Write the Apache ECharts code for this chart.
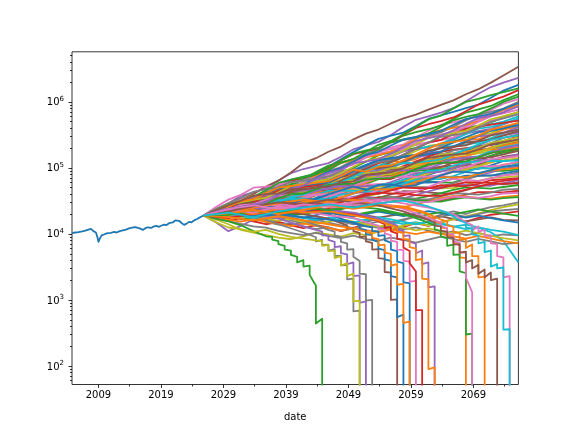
<!DOCTYPE html>
<html>
<head>
<meta charset="utf-8">
<script src="https://cdn.jsdelivr.net/npm/echarts@6/dist/echarts.min.js"></script>
<style>
  html, body { margin: 0; padding: 0; background: #fff; }
  #chart { width: 576px; height: 432px; }
</style>
</head>
<body>
<div id="chart"></div>
<script>
// all values in thousands
const history = [
  [2004.77, 10.3], [2005.3, 10.5], [2005.8, 10.6], [2006.4, 10.9], [2006.9, 11.2], [2007.4, 11.6],
  [2007.8, 11.9], [2008.2, 11.0], [2008.6, 10.5], [2008.85, 8.8], [2009.0, 7.6], [2009.2, 8.4],
  [2009.5, 9.5], [2009.9, 9.8], [2010.3, 10.2], [2010.6, 9.9], [2011.0, 10.4], [2011.5, 10.7],
  [2011.9, 10.5], [2012.4, 11.0], [2012.9, 11.3], [2013.4, 11.6], [2013.9, 12.1], [2014.4, 12.4],
  [2014.9, 12.7], [2015.3, 12.3], [2015.7, 12.0], [2016.1, 11.5], [2016.5, 12.2], [2016.9, 12.6],
  [2017.4, 12.3], [2017.9, 13.0], [2018.3, 13.2], [2018.7, 12.8], [2019.1, 13.4], [2019.5, 13.8],
  [2019.9, 13.6], [2020.3, 14.5], [2020.6, 15.4], [2020.9, 14.9], [2021.3, 16.0], [2021.6, 16.6],
  [2021.9, 15.8], [2022.3, 14.6], [2022.7, 13.7], [2023.1, 14.3], [2023.5, 15.2], [2023.9, 15.0],
  [2024.3, 16.0], [2024.7, 16.7], [2025.1, 17.5], [2025.5, 18.3], [2025.8, 19.0]
];

const simYears = [2025.8, 2027.8, 2029.8, 2031.8, 2033.8, 2035.8, 2037.8, 2039.8, 2041.8, 2043.8,
  2045.8, 2047.8, 2049.8, 2051.8, 2053.8, 2055.8, 2057.8, 2059.8, 2061.8, 2063.8, 2065.8, 2067.8,
  2069.8, 2071.8, 2073.8, 2076.2];

// simulated paths that last to the end, one value per simYears entry
const survivors = [
  [19, 22.6, 23.6, 30.3, 37.3, 38, 37.8, 45, 57, 72, 77, 78, 77, 93, 118, 126, 123, 136, 170, 214, 258, 266, 273, 318, 378, 420],
  [19, 19.3, 19.4, 22.1, 25.7, 29.3, 28.5, 27.6, 27.9, 32.1, 38.9, 46, 51, 48, 46.5, 45.6, 51.8, 62, 63, 59.6, 60.1, 69, 81.5, 91, 90, 95],
  [19, 22.5, 26.2, 26.3, 26, 27.1, 32, 39.7, 41.6, 39.9, 40.5, 46.9, 57.1, 67.6, 67.3, 67.8, 78.4, 94.9, 114, 119, 119, 120, 129, 151, 179, 190],
  [19, 22.3, 29.2, 37.6, 42.7, 48.3, 64.4, 82.9, 96, 106, 118, 147, 191, 219, 247, 315, 417, 534, 599, 683, 800, 1020, 1320, 1670, 1950, 2300],
  [19, 22, 27, 33, 40, 52, 64, 85, 118, 140, 175, 210, 270, 330, 380, 470, 560, 640, 760, 900, 1050, 1300, 1550, 1950, 2500, 3400],
  [19, 25.5, 33, 39, 50, 52, 55, 66, 70, 76, 93, 101, 112, 143, 182, 203, 226, 289, 364, 448, 489, 540, 608, 753, 939, 1100],
  [19, 18, 19.5, 17, 15.5, 16.8, 15, 13.8, 15, 16.5, 14.8, 13.5, 12.2, 13.8, 15.5, 14, 16, 18.5, 17, 19.5, 22, 20, 23, 25.5, 27, 30],
  [19, 19.3, 20.4, 21.8, 25.6, 30.8, 36.5, 37.3, 38.3, 40.4, 48.4, 58.8, 70, 81.7, 84.1, 86.2, 89.6, 103, 124, 144, 154, 158, 165, 179, 209, 240],
  [19, 20.7, 25.5, 27.6, 29.6, 35.8, 45.5, 55.6, 68.3, 71.8, 78.6, 82.5, 90.6, 107, 133, 164, 185, 196, 208, 231, 283, 356, 427, 454, 501, 600],
  [19, 23.3, 25.9, 29.4, 36.4, 41.3, 51.6, 65.9, 72.5, 82, 104, 135, 173, 219, 274, 308, 342, 429, 549, 622, 703, 801, 909, 1150, 1480, 1800],
  [19, 20, 20.8, 23.6, 27.4, 28.6, 28.5, 28.9, 32.9, 38.4, 44.7, 51.3, 51.6, 52.2, 52.4, 54.3, 63.1, 73.7, 85, 98.5, 103, 105, 107, 120, 140, 150],
  [19, 23.2, 25.3, 27.4, 33.7, 42, 51.2, 54.9, 58.6, 71.1, 75.6, 82.7, 99.6, 124, 155, 173, 182, 200, 240, 301, 366, 404, 435, 486, 591, 700],
  [19, 17.5, 16, 17.2, 15.5, 14, 15.2, 13.5, 12.2, 13.6, 12.5, 11, 12.3, 13.8, 12.6, 11.5, 12.8, 14.5, 13.2, 15, 16.8, 15.4, 17.5, 19.5, 20.5, 22],
  [19, 19.2, 20.3, 24.1, 29.1, 35.3, 37.7, 39.3, 46, 56.8, 68.4, 73.4, 77, 79.6, 84.6, 98.7, 120, 145, 155, 163, 167, 182, 218, 263, 310, 340],
  [19, 20.9, 23.3, 23.1, 22.3, 22, 21.3, 23.6, 26.3, 29.3, 28.5, 27.6, 27.6, 31.1, 35, 39.7, 44.4, 43.9, 42.5, 40.9, 40.9, 45.8, 52.1, 57.3, 56, 60],
  [19, 20.8, 23.1, 28.4, 31.2, 34.3, 42.3, 53.5, 67.3, 82.8, 90.2, 97.9, 121, 151, 166, 178, 196, 240, 297, 322, 350, 426, 537, 661, 733, 850],
  [19, 17.8, 18.6, 16.5, 17.3, 15.2, 13.8, 14.6, 13, 11.8, 12.6, 11.2, 12, 13.4, 12.3, 13.2, 11.7, 12.6, 11.2, 10.1, 10.9, 9.6, 10.4, 9.2, 9.8, 9.5],
  [19, 22.5, 24.1, 29, 35.5, 42.6, 45.1, 47.5, 50.4, 54.3, 65.8, 81.8, 88.6, 93.9, 101, 121, 148, 180, 214, 229, 242, 287, 307, 335, 401, 480],
  [19, 18.2, 19.5, 21, 19.6, 18, 19.8, 21.5, 20, 18.4, 17, 18.6, 17.2, 15.8, 16.9, 15.4, 14, 15.1, 13.6, 14.5, 13, 11.8, 12.4, 10.6, 7.8, 3.7],
  [19, 20.3, 24.2, 28.7, 29.6, 30.3, 32.1, 37.7, 45.4, 52.9, 54.4, 56.2, 65.8, 79.1, 92.8, 96.7, 99, 103, 108, 129, 153, 182, 211, 222, 230, 270],
  [19, 18.8, 19.1, 19.7, 22.4, 26, 30.1, 34.2, 34.1, 33.8, 34.8, 40, 46.6, 54.1, 55.5, 54.6, 55.2, 56.7, 65.2, 76.3, 87, 99, 98.9, 98, 112, 120],
  [19, 21.8, 24.5, 27.7, 34.2, 43.1, 48.5, 54.2, 67.8, 86.2, 108, 121, 136, 152, 190, 244, 308, 348, 384, 436, 549, 688, 768, 864, 1060, 1300],
  [19, 20.9, 20.4, 19.6, 19.2, 21.2, 23.9, 26.4, 28.8, 28, 26.8, 26.1, 25.8, 28.2, 31.4, 35.1, 34.7, 33.1, 32.5, 32.2, 35.5, 39.2, 42.9, 42.8, 42.5, 45],
  [19, 23.4, 28.5, 34.1, 36.3, 39, 41.6, 50.3, 60.8, 64.6, 68.7, 74.3, 81.2, 97.2, 118, 147, 177, 193, 204, 223, 270, 330, 359, 390, 455, 550],
  [19, 20.2, 18.8, 19.9, 21.5, 20, 18.6, 19.8, 21.2, 22.6, 21, 19.4, 20.8, 19.2, 17.7, 18.9, 20.3, 18.7, 17.2, 18.4, 16.9, 15.5, 16.6, 17.8, 16.3, 16],
  [19, 19.9, 23, 27.1, 31.7, 33, 33.7, 34.8, 35.8, 41.7, 49.3, 57.5, 66.8, 68.9, 70.7, 73, 76.8, 89.3, 106, 124, 132, 135, 143, 167, 194, 210],
  [19, 22.2, 24.7, 27.4, 33.5, 41.7, 51.6, 63.8, 70.7, 75.7, 84, 103, 130, 161, 198, 240, 262, 285, 308, 345, 421, 524, 637, 703, 790, 1000],
  [19, 18.7, 18.7, 18.8, 18.9, 21.4, 24.2, 27, 30.3, 34.1, 34, 33.2, 32.9, 36.2, 40.7, 46.4, 51.8, 50.8, 49.6, 49.1, 49.6, 55.3, 62.9, 70.4, 71.5, 75],
  [19, 22, 23.1, 24.4, 26.2, 31.6, 38.7, 47.1, 56, 58.6, 61, 72.9, 86.8, 90.6, 95, 102, 121, 146, 174, 203, 214, 224, 240, 282, 334, 380],
  [19, 21.5, 24.4, 24.7, 24.6, 25.2, 25.8, 26.2, 30.1, 35.1, 41.3, 47.4, 54.1, 55.3, 55.3, 56.1, 58, 67, 78.5, 90, 92.7, 93.4, 96.6, 109, 127, 135],
  [19, 21.8, 24.3, 30.1, 37.2, 41, 44.5, 49, 60.5, 75.8, 95.5, 118, 132, 144, 156, 176, 218, 269, 332, 371, 403, 446, 503, 619, 761, 900],
  [19, 18.6, 18.6, 20.3, 23, 25.9, 28.4, 28.1, 27.1, 26.4, 26.1, 26, 29, 32.2, 36, 35.8, 34.7, 34.2, 37.4, 41.5, 46.4, 50.7, 49.9, 48.6, 51.3, 55],
  [19, 22.7, 26.5, 27.7, 28.6, 33.6, 40.4, 43.1, 43.9, 45.9, 53.5, 63.5, 67.4, 71.2, 75.9, 88.7, 106, 125, 148, 174, 188, 198, 209, 223, 257, 300],
  [19, 15, 11, 13.2, 16.5, 19.8, 22.5, 24, 25.5, 29.5, 34.5, 40, 42, 42.5, 44, 49, 56.5, 64.5, 73, 73.5, 73, 73.5, 75.5, 85, 97, 105],
  [19, 22.4, 25.7, 27, 27.7, 28.1, 29, 32.9, 38.4, 44.7, 51.3, 52.9, 53.3, 53.5, 54.5, 56.6, 66, 77.4, 91.1, 104, 108, 110, 113, 127, 148, 160],
  [19, 24, 29.1, 31.2, 33.2, 35.9, 39.5, 48, 59.3, 72.1, 78.3, 84, 91.8, 101, 123, 154, 189, 224, 244, 262, 289, 350, 432, 520, 566, 650],
  [19, 19.4, 19.7, 20, 22.2, 24.7, 27.9, 31.6, 32, 31.7, 31.6, 32, 35.9, 41, 46.5, 51.6, 51.8, 50.9, 51.2, 52.6, 58.9, 67.1, 75.4, 77, 76.9, 85],
  [19, 16.5, 14, 11.5, 10.5, 9.6, 8.8, 8.3, 9.2, 10.5, 9.8, 9.1, 10.3, 9.6, 10.8, 12, 13.3, 14.6, 13.5, 15, 16.6, 18.4, 20.5, 23, 25.5, 28],
  [19, 19.7, 22.7, 26.9, 31.6, 33, 33.7, 34.9, 40.6, 48, 56.1, 65.3, 68.4, 70, 72, 75.3, 79.5, 93.8, 111, 130, 137, 143, 150, 178, 210, 230],
  [19, 20.7, 22.5, 26.7, 32.5, 39.5, 43.2, 45.4, 48.4, 52.6, 63.8, 77.1, 92.9, 111, 131, 141, 149, 158, 169, 201, 243, 293, 344, 370, 396, 470],
  [19, 17.9, 17.3, 18.5, 20.4, 22.5, 21.7, 20.8, 20.1, 22, 24.6, 27.1, 29.7, 28.7, 26.9, 25.9, 25.5, 28.1, 31.3, 34.8, 37.7, 36.8, 35, 34.2, 36.3, 38],
  [19, 21.4, 22.2, 23.1, 23.8, 27.5, 32.4, 37.9, 43.7, 45.7, 46.2, 47.5, 49.7, 57.3, 67.2, 77.8, 88.1, 90.4, 92.2, 94.8, 97.4, 113, 131, 153, 170, 180],
  [19, 21.5, 24.2, 27.5, 31.2, 39, 49.6, 62.3, 70.3, 80, 100, 129, 161, 178, 200, 248, 316, 403, 457, 508, 579, 719, 908, 1040, 1200, 1500],
  [19, 21.2, 23.5, 26, 25.4, 24.7, 23.9, 23.5, 23.5, 25.9, 29.3, 32.9, 36.6, 36.3, 35.1, 34.5, 34.5, 38.8, 43.9, 49.4, 54.8, 55.4, 53.8, 53.6, 58.6, 65],
  [19, 19, 20, 23.8, 28.1, 33.4, 39.4, 41.3, 42.3, 44.1, 46.7, 54.7, 65.2, 76.5, 89.6, 94, 96.3, 101, 109, 127, 151, 177, 187, 196, 220, 250],
  [19, 22.6, 26.1, 29.5, 29.8, 29.9, 30.4, 30.9, 31.2, 32.2, 37.1, 42.5, 48.7, 55.6, 56.6, 56.9, 58.1, 60, 68.4, 79.2, 90.5, 103, 105, 105, 110, 125],
  [19, 19.8, 20.9, 24.5, 25.2, 26.6, 32, 39.1, 46.5, 49.4, 60.5, 72.9, 87.4, 92.9, 96.6, 112, 116, 120, 129, 154, 184, 196, 205, 238, 283, 320],
  [19, 22.2, 25.9, 29.4, 33.9, 35, 35.1, 39.7, 39.4, 39.6, 40.3, 45.4, 45.8, 46.3, 51.8, 52.4, 59.4, 69.4, 80.7, 92.4, 92.7, 94, 106, 123, 130, 140],
  [19, 21, 25.4, 27, 29.3, 35.7, 44.6, 53.5, 57.3, 68.7, 84.3, 89.9, 95.1, 100, 107, 128, 158, 193, 209, 224, 264, 324, 393, 416, 462, 560],
  [19, 20.6, 20.2, 19.7, 19.4, 19.4, 22.6, 25.8, 26.4, 30.5, 34.5, 35.3, 40.7, 46.6, 47.4, 53.8, 60.2, 59.7, 60, 61.4, 69.2, 76.5, 76.1, 76.2, 82.8, 90],
  [19, 21.6, 25.3, 26.7, 27.5, 28.6, 33.1, 39.3, 40.8, 42.3, 44.2, 52.3, 62.3, 73.9, 77, 80.1, 92.3, 110, 131, 139, 143, 149, 172, 205, 219, 240],
  [19, 20.8, 23.2, 28.6, 31.2, 34.6, 43.9, 56.5, 70.9, 79.3, 102, 130, 164, 184, 201, 246, 269, 292, 330, 415, 525, 589, 651, 793, 994, 1200],
  [19, 21.6, 24.5, 27.1, 30.4, 30.5, 29.8, 32.8, 31.6, 30.9, 30.6, 33.6, 32.8, 32.4, 35.3, 34.7, 38.3, 43.5, 49.2, 54.8, 53.4, 52.9, 57.4, 64.9, 67, 70],
  [19, 20.9, 24.7, 26, 27.8, 33.5, 41.5, 49.1, 51.9, 61.5, 74.6, 78.4, 82, 85.2, 90.3, 106, 130, 157, 167, 177, 206, 251, 299, 313, 343, 410],
  [19, 21.2, 21.3, 21.3, 21.7, 22.3, 26.6, 31.2, 33, 39, 45.4, 47.7, 56.5, 66.6, 69.5, 81.1, 93.3, 95.2, 98.4, 103, 120, 136, 139, 144, 160, 180],
  [19, 20.9, 26.5, 33, 36.1, 45.4, 55.8, 60.3, 64.4, 69.5, 75.5, 92.2, 117, 144, 176, 192, 208, 220, 239, 264, 327, 399, 495, 601, 670, 760],
  [19, 18.3, 18, 19.5, 18.7, 18.3, 20.4, 23.1, 25.6, 25.2, 28.6, 32, 35.5, 35, 33.8, 36.4, 35, 33.5, 33.3, 36.9, 41, 40.5, 39.4, 42.2, 46.6, 48],
  [19, 22.9, 27.4, 32.1, 38.1, 40.4, 41.7, 48.6, 49.6, 51.2, 53.8, 62.4, 64.6, 67.3, 77.7, 80.7, 94.2, 113, 136, 160, 165, 173, 199, 237, 259, 290],
  [19, 19.8, 22.3, 22.3, 22.8, 26.1, 30.7, 34.4, 34.6, 39, 45, 45, 44.7, 44.2, 44.4, 49.9, 57.7, 66.5, 67.2, 67.8, 75.2, 86.7, 98.6, 98.1, 102, 115],
  [19, 22.6, 24.3, 26.1, 28.3, 31, 39.5, 49.5, 55.9, 70.7, 87.9, 98.7, 124, 157, 175, 218, 269, 293, 323, 363, 449, 545, 595, 655, 780, 950],
  [19, 21.3, 23.8, 24.3, 25.9, 30.3, 36, 37.2, 38.1, 38.7, 40.6, 47.8, 50.7, 59.5, 70.2, 74, 86.4, 102, 122, 129, 153, 176, 181, 189, 193, 200],
  [19, 19.9, 18.8, 17.6, 16.8, 16.2, 18.1, 20, 19.8, 22, 24, 23.6, 26.3, 29, 28.5, 31.1, 33.6, 32.2, 31.2, 30.8, 33.5, 35.6, 34.2, 33.1, 34.7, 36],
  [19, 22.1, 25.7, 27.4, 30.2, 36.6, 45.1, 48.6, 51.6, 54.5, 59.3, 72.5, 79.9, 97.7, 119, 131, 158, 195, 242, 265, 325, 389, 416, 451, 478, 520],
  [19, 20.1, 23, 23.3, 24, 27.8, 33.2, 37.8, 38.5, 44, 51.4, 52.1, 52.5, 52.5, 53.5, 60.8, 71.4, 83.3, 85.5, 87.3, 97.9, 114, 132, 133, 141, 160],
  [19, 21.8, 22.6, 23.2, 24.2, 25.5, 31.3, 37.8, 41.1, 50, 59.8, 64.4, 78.5, 95.2, 102, 122, 145, 152, 161, 174, 208, 242, 254, 270, 309, 360],
  [19, 21.1, 20.7, 24.8, 28.7, 27.3, 25.4, 28.3, 33.6, 39.6, 39.6, 37.3, 34.6, 39, 46.4, 46.4, 42.6, 44, 51.4, 60.6, 68.3, 65.9, 63.2, 69, 76.8, 80],
  [19, 23.7, 29.1, 35.3, 43.3, 47.5, 50.7, 60.8, 64.1, 68.4, 74.1, 88.8, 94.9, 103, 122, 131, 158, 196, 242, 295, 314, 339, 403, 497, 561, 650],
  [19, 19.6, 20.6, 23.8, 24.5, 25.5, 30.4, 36.9, 43.6, 45.9, 55.7, 66.6, 79.2, 83.4, 86.1, 99.1, 102, 104, 111, 132, 157, 165, 172, 197, 232, 260],
  [19, 20.9, 23, 23.2, 24.3, 27.8, 32.4, 33, 33.3, 33.2, 34.2, 39.5, 41.2, 47.6, 55.2, 57.2, 65.6, 76.3, 89.9, 92.9, 108, 122, 124, 128, 127, 130],
  [19, 20.4, 25.4, 30.9, 33.2, 40.7, 48.9, 51.9, 54.1, 57.2, 60.8, 72.7, 89.9, 109, 131, 138, 147, 152, 161, 175, 212, 253, 307, 364, 398, 440],
  [19, 20.9, 23.7, 24.1, 24, 24, 26.8, 30.7, 30.9, 31, 31.2, 35.7, 41.1, 46.9, 47.3, 47.4, 52.9, 61.1, 70.3, 71.7, 71.6, 72, 80.1, 91.6, 95.1, 100],
  [19, 23.2, 28.1, 31.2, 36.1, 45.8, 59, 66.4, 73.7, 81.4, 92.4, 119, 137, 174, 223, 255, 323, 416, 541, 618, 795, 993, 1110, 1260, 1400, 1600],
  [19, 18.9, 21.6, 24.3, 24.1, 27.3, 30.1, 29.5, 28.4, 27.6, 27.1, 30, 34.2, 38.1, 42.2, 41.2, 40.4, 38.6, 37.8, 37.8, 42.2, 46.6, 52.2, 57.2, 57.5, 58],
  [19, 22.6, 26.8, 31, 36.4, 38.3, 39.1, 45, 45.4, 46.4, 48.2, 55.3, 56.6, 76.6, 78.4, 89.8, 91.7, 93.2, 98.1, 115, 137, 143, 148, 169, 198, 220],
  [19, 22, 26.3, 28.2, 29.7, 31.3, 36.9, 44.6, 47.2, 49.9, 53, 64, 77.5, 93.6, 99, 105, 123, 150, 182, 197, 207, 219, 257, 310, 339, 380],
  [19, 19.6, 23.3, 27.2, 27.9, 32.9, 37.8, 38.3, 38.3, 38.8, 39.6, 45.2, 53.6, 62, 71.4, 72.4, 73.6, 73, 74.3, 77, 89.3, 102, 119, 135, 142, 150],
  [19, 17.2, 18.6, 20.4, 18.3, 16.4, 17.9, 16, 14.3, 15.6, 17.2, 15.4, 13.9, 15.2, 16.7, 15.1, 16.6, 18.3, 16.5, 18.2, 20, 18.1, 19.9, 21.9, 22.8, 24],
  [19, 22.6, 27.6, 30.4, 32.7, 35.4, 42.7, 52.8, 57.4, 62.1, 67.7, 83.6, 104, 128, 140, 152, 182, 228, 283, 312, 336, 366, 440, 543, 609, 700],
  [19, 21.6, 22.3, 22.8, 23.7, 24.8, 30.3, 36.3, 39.2, 47.4, 56.4, 60.4, 73.2, 90.6, 108, 112, 118, 120, 126, 134, 160, 189, 227, 265, 286, 310],
  [19, 19, 19.2, 21.5, 21.3, 21.5, 24.8, 29, 33.1, 33.7, 39.6, 45.7, 52.6, 46, 55.3, 56.1, 52, 54.6, 64.5, 77, 87.9, 86, 83.4, 92.3, 104, 110],
  [19, 20.5, 25.6, 31.2, 33.6, 41.5, 50, 53.1, 55.7, 59.1, 63, 75.6, 93.9, 87.9, 104, 109, 130, 160, 195, 235, 247, 264, 310, 379, 421, 480],
  [19, 20.2, 23.4, 23.8, 24.8, 28.9, 34.7, 39.8, 40.9, 47.1, 55.4, 56.6, 57.5, 66.3, 68.5, 70.6, 80.7, 95.9, 113, 119, 122, 125, 144, 169, 180, 195],
  [19, 20.6, 22.9, 23, 22.6, 22.3, 24.5, 27.6, 27.4, 27, 26.8, 30.2, 34.2, 40.4, 40.5, 45.5, 50.4, 49.4, 49.2, 49.7, 55.4, 60.5, 59.6, 59.1, 63.4, 68],
  [19, 22.5, 24.2, 25.7, 27.8, 30.3, 38.5, 48, 54, 68, 84.2, 93.9, 118, 124, 135, 165, 207, 257, 282, 308, 370, 462, 568, 612, 691, 850],
  [19, 22.8, 27.3, 31.8, 37.7, 39.9, 41.1, 47.6, 48.5, 50, 52.2, 60.4, 62.4, 78.3, 82.1, 85.7, 98.9, 120, 142, 151, 158, 164, 190, 226, 244, 270],
  [19, 18.6, 21, 23.4, 22.8, 25.5, 27.9, 27, 25.6, 24.7, 23.9, 26.1, 29.4, 32.6, 31.3, 33.6, 32.1, 30.6, 30.2, 33.2, 36.8, 36.1, 35, 37.2, 40.9, 42],
  [19, 17, 15.8, 14.2, 13, 12.4, 11.1, 10.3, 9.6, 10.4, 9.3, 8.6, 9.4, 8.3, 7.9, 8.8, 8.1, 7.4, 8.2, 9.1, 8.3, 7.6, 8.4, 7.7, 7.0, 7.4],
  [19, 20.5, 19, 17.6, 18.8, 17, 15.8, 16.9, 15.2, 14.1, 15.4, 16.8, 15.3, 14, 12.9, 13.8, 12.4, 11.3, 12.1, 11, 10.2, 11.2, 10.3, 9.3, 8.6, 8.0],
  [19, 18.4, 20.1, 18.7, 17.2, 18.6, 20.2, 18.8, 17.3, 16.1, 17.6, 16.2, 15, 16.4, 17.9, 16.6, 15.2, 14, 15.3, 14.1, 12.9, 13.8, 12.6, 11.5, 10.8, 9.6],
  [19, 21, 19.8, 22, 20.4, 18.9, 20.6, 19.1, 17.7, 19.3, 21.1, 19.6, 18.2, 19.9, 21.7, 20.1, 18.6, 20.3, 22.2, 20.6, 19.1, 17.6, 18.9, 17.4, 16.0, 14.8],
  [19, 17.8, 16.5, 15.3, 16.6, 15.4, 14.2, 13.1, 14.3, 13.2, 12.2, 11.3, 12.3, 11.4, 10.6, 11.6, 10.7, 9.9, 10.8, 10.0, 9.2, 8.5, 9.3, 8.5, 7.8, 7.2],
  [19, 20, 21.6, 20.1, 21.9, 23.6, 21.9, 20.3, 22.1, 24, 22.3, 20.7, 19.2, 20.9, 22.7, 21, 19.5, 18.1, 19.7, 21.4, 19.9, 21.6, 23.5, 21.8, 20.2, 18.7]
];

// simulated paths that run out of money: [year, value], 0 = depleted
const depleted = [
  [[2025.8, 19], [2027.8, 17], [2029.8, 15.5], [2031.8, 13.5], [2033.8, 11], [2035.8, 9.2], [2036.8, 9.0], [2036.8, 8.2], [2037.8, 7.8], [2037.8, 7.0], [2038.8, 6.6], [2038.8, 5.8], [2039.8, 5.6], [2039.8, 4.8], [2040.8, 4.5], [2040.8, 3.7], [2041.8, 4.0], [2041.8, 3.2], [2042.8, 3.3], [2042.8, 2.4], [2043.4, 1.9], [2043.8, 1.65], [2043.8, 0.44], [2044.8, 0.52], [2044.8, 0]],
  [[2025.8, 19], [2029.8, 21], [2033.8, 19], [2037.8, 14], [2041.8, 10.5], [2043.8, 8.9], [2043.8, 7.7], [2044.8, 8.1], [2044.8, 6.8], [2045.8, 6.9], [2045.8, 5.6], [2046.8, 5.9], [2046.8, 4.6], [2047.8, 4.7], [2047.8, 3.35], [2048.8, 3.4], [2048.8, 2.05], [2049.8, 2.1], [2049.8, 0.67], [2050.8, 0.69], [2050.8, 0]],
  [[2025.8, 19], [2029.8, 18], [2033.8, 20], [2037.8, 17], [2041.8, 13], [2044.8, 10.8], [2044.8, 9.5], [2045.8, 9.4], [2045.8, 8.1], [2046.8, 7.6], [2046.8, 6.3], [2047.8, 6.5], [2047.8, 5.1], [2048.8, 4.9], [2048.8, 3.5], [2049.8, 3.7], [2049.8, 2.3], [2050.8, 2.35], [2050.8, 0.9], [2051.8, 0.95], [2051.8, 0]],
  [[2025.8, 19], [2029.8, 22], [2033.8, 24], [2037.8, 20], [2041.8, 16], [2045.8, 11.5], [2046.8, 10.8], [2046.8, 9.4], [2047.8, 9.0], [2047.8, 7.6], [2048.8, 7.2], [2048.8, 5.8], [2049.8, 5.9], [2049.8, 4.5], [2050.8, 3.9], [2050.8, 2.5], [2051.8, 2.45], [2051.8, 0.98], [2052.8, 1.0], [2052.8, 0]],
  [[2025.8, 19], [2027.8, 15], [2029.8, 12.5], [2031.8, 11.8], [2033.8, 10.7], [2035.8, 11.5], [2037.8, 10], [2039.8, 9], [2041.8, 8.5], [2043.8, 8], [2044.8, 7.8], [2044.8, 6.6], [2045.8, 6.8], [2045.8, 5.5], [2046.8, 5.6], [2046.8, 4.3], [2047.8, 4.6], [2047.8, 3.3], [2048.8, 3.6], [2048.8, 2.3], [2049.8, 2.5], [2049.8, 0.95], [2050.8, 0.98], [2050.8, 0]],
  [[2025.8, 19], [2029.8, 20], [2033.8, 23], [2037.8, 22], [2041.8, 20], [2045.8, 17], [2048.8, 13.5], [2048.8, 12.1], [2049.8, 12.4], [2049.8, 11], [2050.8, 10.4], [2050.8, 8.9], [2051.8, 9.2], [2051.8, 7.7], [2052.8, 7.3], [2052.8, 5.8], [2053.8, 5.9], [2053.8, 4.3], [2054.8, 4.2], [2054.8, 2.65], [2055.8, 2.6], [2055.8, 1.0], [2056.8, 1.02], [2056.8, 0]],
  [[2025.8, 19], [2029.8, 24], [2033.8, 27], [2037.8, 25], [2041.8, 23], [2045.8, 20], [2047.8, 17], [2049.8, 14.5], [2050.8, 13.5], [2050.8, 12], [2051.8, 11.4], [2051.8, 9.9], [2052.8, 9.6], [2052.8, 8.1], [2053.8, 7.6], [2053.8, 6.0], [2054.8, 5.7], [2054.8, 4.1], [2055.8, 3.9], [2055.8, 2.3], [2056.8, 2.2], [2056.8, 0.55], [2057.8, 0.6], [2057.8, 0]],
  [[2025.8, 19], [2029.8, 21], [2033.8, 18.5], [2037.8, 20], [2041.8, 18], [2045.8, 16.5], [2049.8, 15], [2051.8, 13], [2052.8, 12.6], [2052.8, 11.1], [2053.8, 10.9], [2053.8, 9.3], [2054.8, 9.6], [2054.8, 8.0], [2055.8, 7.4], [2055.8, 5.8], [2056.8, 5.5], [2056.8, 3.8], [2057.8, 3.6], [2057.8, 1.85], [2058.8, 1.8], [2058.8, 0]],
  [[2025.8, 19], [2029.8, 23], [2033.8, 21], [2037.8, 25], [2041.8, 22], [2045.8, 19], [2049.8, 17.5], [2052.8, 14], [2053.8, 13.3], [2053.8, 11.7], [2054.8, 11.9], [2054.8, 10.2], [2055.8, 9.6], [2055.8, 7.9], [2056.8, 7.6], [2056.8, 5.8], [2057.8, 5.7], [2057.8, 3.9], [2058.8, 3.8], [2058.8, 1.9], [2059.8, 1.95], [2059.8, 0]],
  [[2025.8, 19], [2029.8, 17.5], [2033.8, 20], [2037.8, 23], [2041.8, 21], [2045.8, 24], [2049.8, 20], [2052.8, 17], [2054.8, 14], [2054.8, 12.3], [2055.8, 12.6], [2055.8, 10.9], [2056.8, 10.2], [2056.8, 8.4], [2057.8, 8.1], [2057.8, 6.2], [2058.8, 5.5], [2058.8, 3.6], [2059.8, 2.7], [2059.8, 0.7], [2060.8, 0.7], [2060.8, 0]],
  [[2025.8, 19], [2029.8, 21.5], [2033.8, 25], [2037.8, 22], [2041.8, 26], [2045.8, 23], [2049.8, 21], [2053.8, 17], [2055.8, 14.5], [2056.8, 13.4], [2056.8, 11.6], [2057.8, 11.2], [2057.8, 9.3], [2058.8, 9.5], [2058.8, 7.6], [2059.8, 7.1], [2059.8, 5.1], [2060.8, 5.6], [2060.8, 3.5], [2061.8, 3.7], [2061.8, 1.55], [2062.8, 1.6], [2062.8, 0]],
  [[2025.8, 19], [2029.8, 18], [2033.8, 16], [2037.8, 18.5], [2041.8, 16], [2045.8, 14], [2049.8, 12], [2051.8, 10.8], [2052.8, 10.2], [2052.8, 8.7], [2053.8, 8.3], [2053.8, 6.7], [2054.8, 6.9], [2054.8, 5.2], [2055.8, 5.0], [2055.8, 3.3], [2056.8, 3.5], [2056.8, 1.7], [2057.8, 1.75], [2057.8, 0.45], [2058.8, 0.47], [2058.8, 0]],
  [[2025.8, 19], [2029.8, 22], [2033.8, 20], [2037.8, 24], [2041.8, 21], [2045.8, 22], [2049.8, 19], [2053.8, 16], [2055.8, 13.5], [2056.8, 12.5], [2056.8, 10.7], [2057.8, 10.3], [2057.8, 8.4], [2058.8, 8.2], [2058.8, 6.3], [2059.8, 6.0], [2059.8, 4.0], [2060.8, 4.2], [2060.8, 2.1], [2061.8, 2.05], [2061.8, 0.09], [2062.8, 0.095], [2062.8, 0]],
  [[2025.8, 19], [2029.8, 21], [2033.8, 25], [2037.8, 29], [2041.8, 33], [2045.8, 30], [2049.8, 33], [2053.8, 28], [2057.8, 26], [2060.8, 22], [2061.8, 20], [2061.8, 18.3], [2062.8, 17], [2062.8, 15.2], [2063.8, 14.4], [2063.8, 12.5], [2064.8, 12.1], [2064.8, 10.1], [2065.8, 9.6], [2065.8, 7.5], [2066.8, 6.6], [2066.8, 4.4], [2067.8, 4.3], [2067.8, 0]],
  [[2025.8, 19], [2029.8, 19.5], [2033.8, 22], [2037.8, 21], [2041.8, 25], [2045.8, 23], [2049.8, 26], [2053.8, 24], [2057.8, 20], [2060.8, 16], [2062.8, 13.5], [2062.8, 11.7], [2063.8, 11.0], [2063.8, 9.1], [2064.8, 8.6], [2064.8, 6.6], [2065.8, 6.9], [2065.8, 4.8], [2066.8, 4.9], [2066.8, 2.7], [2067.8, 2.55], [2067.8, 0.3], [2068.8, 0.31], [2068.8, 0]],
  [[2025.8, 19], [2029.8, 23], [2033.8, 21], [2037.8, 26], [2041.8, 24], [2045.8, 29], [2049.8, 27], [2053.8, 30], [2057.8, 24], [2060.8, 19], [2062.8, 16], [2063.8, 15], [2063.8, 13.1], [2064.8, 12.2], [2064.8, 10.2], [2065.8, 9.8], [2065.8, 7.7], [2066.8, 7.4], [2066.8, 5.2], [2067.8, 5.2], [2067.8, 2.2], [2068.8, 1.3], [2068.8, 0]],
  [[2025.8, 19], [2029.8, 20.5], [2033.8, 23], [2037.8, 20], [2041.8, 23], [2045.8, 27], [2049.8, 24], [2053.8, 27], [2057.8, 25], [2061.8, 20], [2063.8, 16.5], [2064.8, 15.5], [2064.8, 13.5], [2065.8, 12.8], [2065.8, 10.7], [2066.8, 10.3], [2066.8, 8.1], [2067.8, 8.4], [2067.8, 6.1], [2068.8, 6.9], [2068.8, 4.6], [2069.8, 4.6], [2069.8, 2.2], [2070.8, 2.25], [2070.8, 0]],
  [[2025.8, 19], [2029.8, 22], [2033.8, 26], [2037.8, 30], [2041.8, 28], [2045.8, 33], [2049.8, 30], [2053.8, 27], [2057.8, 22], [2060.8, 17.5], [2062.8, 15], [2062.8, 13.3], [2063.8, 13.0], [2063.8, 11.2], [2064.8, 10.8], [2064.8, 9.0], [2065.8, 8.7], [2065.8, 6.9], [2066.8, 7.0], [2066.8, 5.2], [2067.8, 5.4], [2067.8, 3.7], [2068.8, 4.0], [2068.8, 3.0], [2069.8, 3.4], [2069.8, 2.5], [2070.8, 2.9], [2070.8, 2.2], [2071.8, 2.6], [2071.8, 2.0], [2072.8, 2.1], [2072.8, 0]],
  [[2025.8, 19], [2029.8, 24], [2033.8, 27], [2037.8, 24], [2041.8, 28], [2045.8, 26], [2049.8, 30], [2053.8, 33], [2057.8, 29], [2061.8, 25], [2065.8, 20], [2067.8, 15], [2068.8, 13.6], [2068.8, 11.3], [2069.8, 13], [2069.8, 10.8], [2070.8, 11.5], [2070.8, 9.2], [2071.8, 9.6], [2071.8, 7.2], [2072.8, 7.0], [2072.8, 4.6], [2073.8, 4.4], [2073.8, 2.2], [2074.8, 2.3], [2074.8, 0]],
  [[2025.8, 19], [2029.8, 21], [2033.8, 18], [2037.8, 22], [2041.8, 25], [2045.8, 28], [2049.8, 25], [2053.8, 29], [2057.8, 32], [2061.8, 26], [2064.8, 21], [2066.8, 16], [2067.8, 14.6], [2067.8, 12.6], [2068.8, 12], [2068.8, 9.8], [2069.8, 9.5], [2069.8, 7.2], [2070.8, 7.6], [2070.8, 5.3], [2071.8, 5.6], [2071.8, 3.2], [2072.8, 3.5], [2072.8, 3.0], [2073.8, 3.1], [2073.8, 0.355], [2074.8, 0.36], [2074.8, 0]]
];

const xMajorTicks = [2009, 2019, 2029, 2039, 2049, 2059, 2069];
const xMinorTicks = [2014, 2024, 2034, 2044, 2054, 2064, 2074];
const yMajorTicks = [1e2, 1e3, 1e4, 1e5, 1e6];
const yMinorTicks = [60, 70, 80, 90, 200, 300, 400, 500, 600, 700, 800, 900,
  2e3, 3e3, 4e3, 5e3, 6e3, 7e3, 8e3, 9e3, 2e4, 3e4, 4e4, 5e4, 6e4, 7e4, 8e4, 9e4,
  2e5, 3e5, 4e5, 5e5, 6e5, 7e5, 8e5, 9e5, 2e6, 3e6, 4e6, 5e6];

const X_MIN = 2004.77, X_MAX = 2076.2;
const Y_MIN = 52.5, Y_MAX = 5.71e6;
const UNIT = 1000;
const FLOOR = 1; // a depleted path is drawn down to here, below the axis

const tab10 = ['#1f77b4', '#ff7f0e', '#2ca02c', '#d62728', '#9467bd',
  '#8c564b', '#e377c2', '#7f7f7f', '#bcbd22', '#17becf'];
const depletedColor = [2, 7, 4, 7, 8, 5, 0, 0, 6, 3, 4, 1, 1, 1, 2, 6, 1, 5, 6, 9];

function path(data, color) {
  return {
    type: 'line', data: data, symbol: 'none', silent: true, clip: true,
    lineStyle: {color: color, width: 1.8, join: 'round'}
  };
}

const series = [path(history.map(p => [p[0], p[1] * UNIT]), tab10[0])];
survivors.forEach((vals, i) => {
  series.push(path(vals.map((v, k) => [simYears[k], v * UNIT]), tab10[(i + 1) % 10]));
});
depleted.forEach((pts, i) => {
  series.push(path(pts.map(p => [p[0], p[1] > 0 ? p[1] * UNIT : FLOOR]), tab10[depletedColor[i]]));
});

const font = {fontFamily: 'DejaVu Sans', fontSize: 10, color: '#000'};
const tickStyle = {color: '#000', width: 0.8};

const chart = echarts.init(document.getElementById('chart'), null, {renderer: 'canvas'});
chart.setOption({
  animation: false,
  grid: {left: 72, right: 57.6, top: 51.8, bottom: 47.5, show: true, borderColor: '#000', borderWidth: 0.8},
  xAxis: [{
    type: 'value', min: X_MIN, max: X_MAX, position: 'bottom',
    axisLine: {show: false}, splitLine: {show: false},
    axisTick: {customValues: xMajorTicks, length: 3.5, lineStyle: tickStyle},
    axisLabel: Object.assign({customValues: xMajorTicks, margin: 6, formatter: v => String(Math.round(v))}, font),
    name: 'date', nameLocation: 'middle', nameGap: 28, nameTextStyle: font
  }, {
    type: 'value', min: X_MIN, max: X_MAX, position: 'bottom',
    axisLine: {show: false}, splitLine: {show: false},
    axisTick: {customValues: xMinorTicks, length: 2, lineStyle: tickStyle},
    axisLabel: {show: false}
  }],
  yAxis: [{
    type: 'log', logBase: 10, min: Y_MIN, max: Y_MAX, position: 'left',
    axisLine: {show: false}, splitLine: {show: false},
    axisTick: {customValues: yMajorTicks, length: 3.5, lineStyle: tickStyle},
    axisLabel: {
      customValues: yMajorTicks, margin: 8,
      formatter: v => '{b|10}{s|' + Math.round(Math.log10(v)) + '}',
      rich: {
        b: {fontFamily: 'DejaVu Sans', fontSize: 10, color: '#000', verticalAlign: 'bottom'},
        s: {fontFamily: 'DejaVu Sans', fontSize: 7, color: '#000', verticalAlign: 'top', padding: [0, 0, 5, 0]}
      }
    }
  }, {
    type: 'log', logBase: 10, min: Y_MIN, max: Y_MAX, position: 'left',
    axisLine: {show: false}, splitLine: {show: false},
    axisTick: {customValues: yMinorTicks, length: 2, lineStyle: tickStyle},
    axisLabel: {show: false}
  }],
  series: series
});
</script>
</body>
</html>
